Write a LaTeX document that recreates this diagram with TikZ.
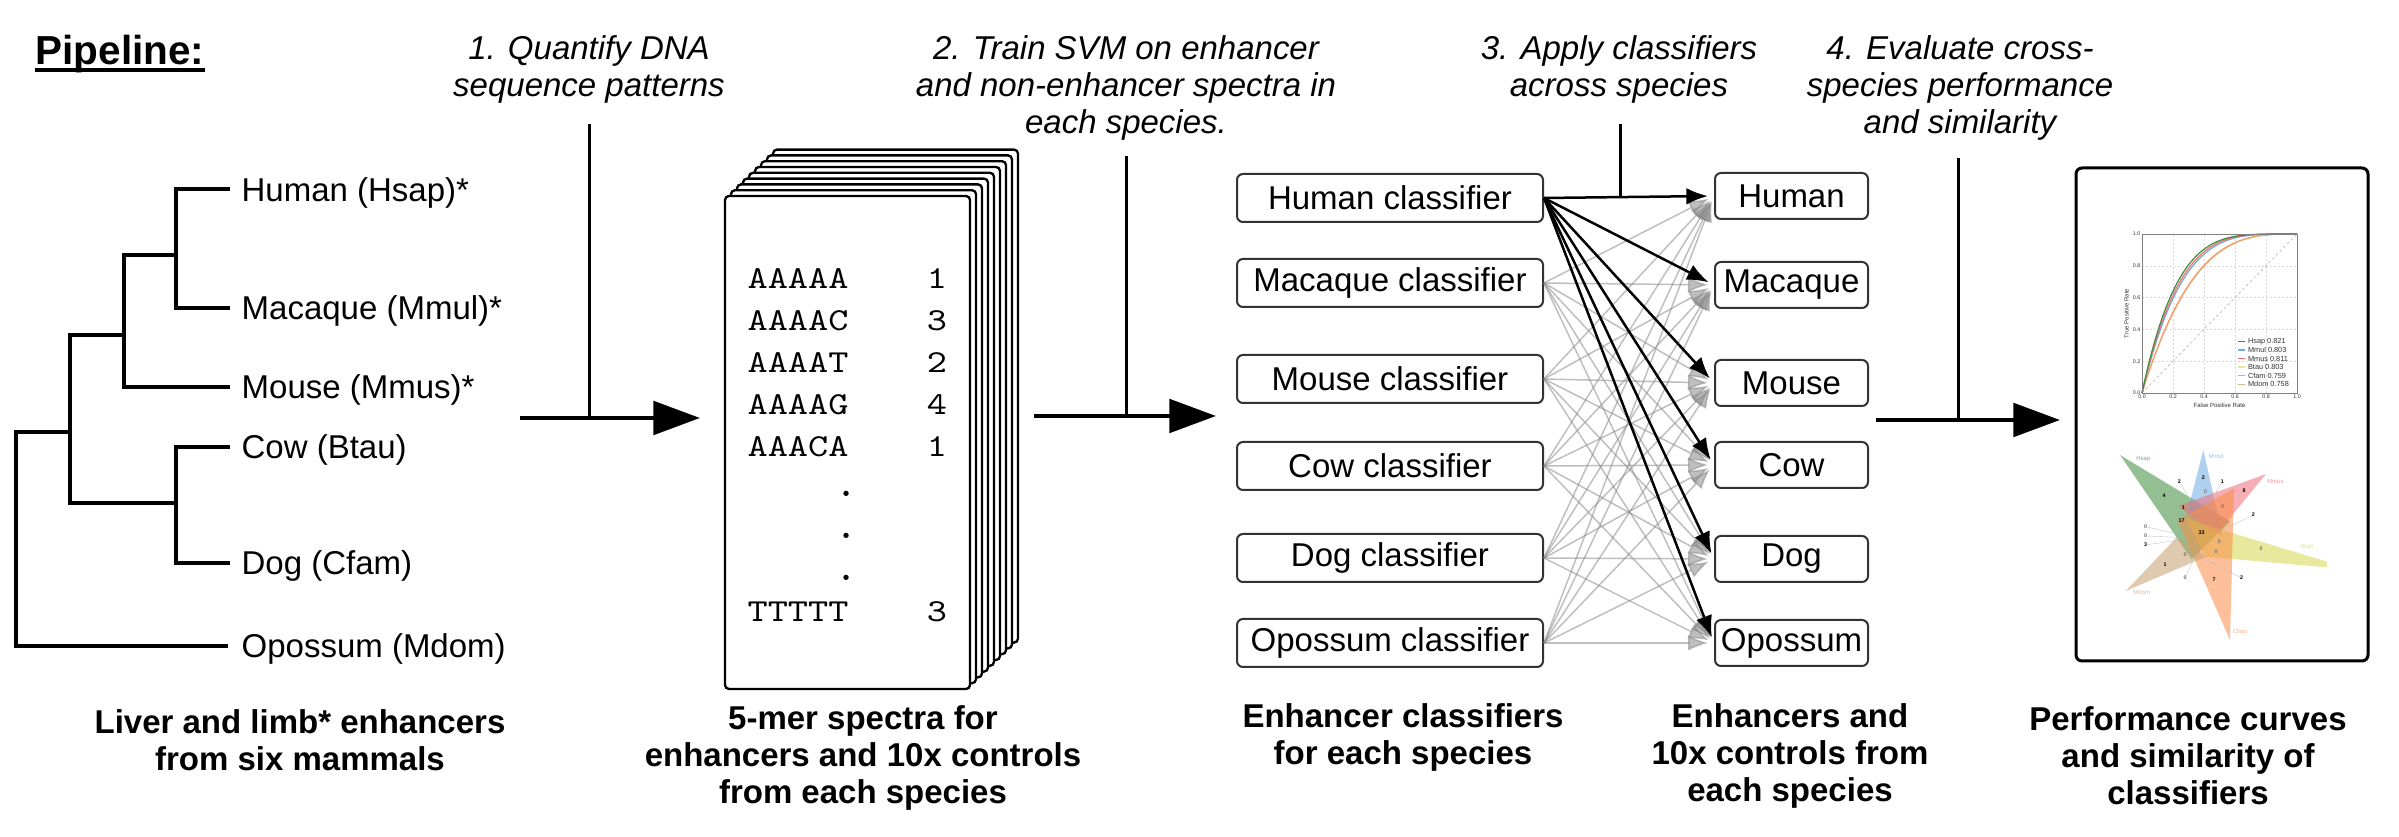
\documentclass[tikz,border=0pt]{standalone}
\usepackage{fontspec}
\setmainfont{Liberation Sans}
\usetikzlibrary{arrows.meta}

\definecolor{cHsap}{RGB}{60,140,60}
\definecolor{cMmul}{RGB}{110,170,225}
\definecolor{cMmus}{RGB}{240,110,120}
\definecolor{cBtau}{RGB}{215,215,80}
\definecolor{cCfam}{RGB}{250,140,70}
\definecolor{cMdom}{RGB}{200,160,110}

% k-mer table entries: typewriter, slightly widened
\newcommand{\kmertext}[1]{\scalebox{1.2}[1]{\ttfamily #1}}

\begin{document}
\begin{tikzpicture}[x=0.3pt,y=-0.3pt,
  tree/.style={line width=1.2pt},
  stepline/.style={line width=0.9pt},
  mainarrow/.style={line width=1.3pt,-{Triangle[length=14pt,width=10pt]}},
  steptext/.style={font=\fontsize{9.9}{11.1}\selectfont\itshape, align=center, inner sep=0},
  caption/.style={font=\fontsize{9.9}{11.1}\selectfont\bfseries, align=center, inner sep=0},
  leaf/.style={font=\fontsize{9.9}{11.1}\selectfont, anchor=base west, inner sep=0},
  page/.style={draw, fill=white, line width=0.7pt, rounded corners=1.2pt},
  mono/.style={font=\fontsize{9.6}{11}\selectfont, inner sep=0},
  clsbox/.style={draw=black!80, line width=0.6pt, rounded corners=1.8pt, minimum width=91.8pt,
    minimum height=14.4pt, inner sep=0, font=\fontsize{9.9}{11}\selectfont},
  tgtbox/.style={clsbox, minimum width=45.9pt, minimum height=13.8pt},
  weak/.style={draw=black!45, opacity=0.55, line width=0.45pt, shorten >=1.8pt, -{Latex[length=6pt,width=4.6pt]}},
  strong/.style={draw=black, line width=0.75pt, shorten >=1.8pt, -{Latex[length=6.5pt,width=5pt]}},
  tick/.style={font=\fontsize{1.6}{1.9}\selectfont, inner sep=0.3pt, text=black!80},
  axlabel/.style={font=\fontsize{1.8}{2.1}\selectfont, inner sep=0, text=black!80},
  legtext/.style={font=\fontsize{2.2}{2.6}\selectfont, inner sep=0, anchor=west, text=black!80},
  gridl/.style={draw=black!15, line width=0.12pt, dash pattern=on 0.6pt off 0.6pt},
  roc/.style={line width=0.35pt},
  tri/.style={fill opacity=0.55},
  vname/.style={font=\fontsize{1.8}{2.1}\selectfont, inner sep=0},
  vnum/.style={font=\fontsize{1.6}{1.9}\selectfont\bfseries, inner sep=0},
  vzero/.style={vnum, text=black!55},
  leader/.style={draw=black!25, line width=0.1pt},
]
\fill[white] (0,0) rectangle (2399,837);
\useasboundingbox (0,0) rectangle (2399,837);

% heading
\node[font=\fontsize{12.15}{13}\selectfont\bfseries, anchor=base west, inner sep=0] (title) at (35,65) {Pipeline:};
\draw[line width=1pt] ([yshift=-1.5pt]title.base west) -- ([yshift=-1.5pt]title.base east);

% species tree
\draw[tree] (230,189.5) -| (176,308) -- (230,308);
\draw[tree] (176,255) -| (124,387) -- (230,387);
\draw[tree] (124,335) -| (70,503) -- (176,503);
\draw[tree] (230,447) -| (176,563) -- (230,563);
\draw[tree] (70,432) -| (15.6,646) -- (228,646);

\node[leaf] (lHsap) at (241,201.5) {Human (Hsap)*};
\node[leaf] (lMmul) at (241,320) {Macaque (Mmul)*};
\node[leaf] (lMmus) at (241,399) {Mouse (Mmus)*};
\node[leaf] (lBtau) at (241,459) {Cow (Btau)};
\node[leaf] (lCfam) at (241,575) {Dog (Cfam)};
\node[leaf] (lMdom) at (241,658) {Opossum (Mdom)};

\node[caption] (cap1) at (300,740) {Liver and limb* enhancers\\from six mammals};

% step 1
\node[steptext] (s1) at (589,69.5) {1. Quantify DNA\\sequence patterns};
\coordinate (s1top) at (589,124);
\coordinate (s1join) at (589,418);
\coordinate (s1from) at (520,418);
\coordinate (s1to) at (700,418);
\draw[stepline] (s1top) -- (s1join);
\draw[mainarrow] (s1from) -- (s1to);

% stack of k-mer spectra
\foreach \i in {8,7,...,1}
  \draw[page] ({725+6*\i},{196-5.8*\i}) rectangle ({970+6*\i},{689-5.8*\i});
\draw[page] (725,196) rectangle (970,689);
\foreach \s/\n/\y [count=\k] in {AAAAA/1/279, AAAAC/3/321, AAAAT/2/363, AAAAG/4/405, AAACA/1/447, TTTTT/3/612} {
  \node[mono, anchor=west] (kmer\k) at (747,\y) {\kmertext{\s}};
  \node[mono] (cnt\k) at (937,\y) {\kmertext{\n}};
}
\foreach \y [count=\k] in {493,535,577}
  \node[font=\fontsize{14}{15}\selectfont\ttfamily, inner sep=0, anchor=base] (dot\k) at (847,{\y+4}) {.};

\node[caption] (cap2) at (863,758) {5-mer spectra for\\enhancers and 10x controls\\from each species};

% step 2
\node[steptext] (s2) at (1126,88) {2. Train SVM on enhancer\\and non-enhancer spectra in\\each species.};
\coordinate (s2top) at (1126,156);
\coordinate (s2join) at (1126,416);
\coordinate (s2from) at (1034,416);
\coordinate (s2to) at (1216,416);
\draw[stepline] (s2top) -- (s2join);
\draw[mainarrow] (s2from) -- (s2to);

% classifiers and target sets
\node[clsbox] (cH)  at (1390,198) {Human classifier};
\node[clsbox] (cMa) at (1390,283) {Macaque classifier};
\node[clsbox] (cMo) at (1390,379) {Mouse classifier};
\node[clsbox] (cCo) at (1390,466) {Cow classifier};
\node[clsbox] (cDo) at (1390,558) {Dog classifier};
\node[clsbox] (cOp) at (1390,643) {Opossum classifier};

\node[tgtbox] (tH)  at (1791.5,196) {Human};
\node[tgtbox] (tMa) at (1791.5,285) {Macaque};
\node[tgtbox] (tMo) at (1791.5,383) {Mouse};
\node[tgtbox] (tCo) at (1791.5,465) {Cow};
\node[tgtbox] (tDo) at (1791.5,559) {Dog};
\node[tgtbox] (tOp) at (1791.5,643) {Opossum};

\foreach \i in {Ma,Mo,Co,Do,Op}
  \foreach \j in {H,Ma,Mo,Co,Do,Op}
    \draw[weak] (c\i.east) -- (t\j.west);
\foreach \j in {H,Ma,Mo,Co,Do,Op}
  \draw[strong] (cH.east) -- (t\j.west);

% step 3
\node[steptext] (s3) at (1619,69.5) {3. Apply classifiers\\across species};
\coordinate (s3top) at (1620,124);
\coordinate (s3join) at (1620,197);
\draw[stepline] (s3top) -- (s3join);

\node[caption] (cap3) at (1403,737) {Enhancer classifiers\\for each species};
\node[caption] (cap4) at (1790,756) {Enhancers and\\10x controls from\\each species};

% step 4
\node[steptext] (s4) at (1960,88) {4. Evaluate cross-\\species performance\\and similarity};
\coordinate (s4top) at (1958,158);
\coordinate (s4join) at (1958,420);
\coordinate (s4from) at (1876,420);
\coordinate (s4to) at (2060,420);
\draw[stepline] (s4top) -- (s4join);
\draw[mainarrow] (s4from) -- (s4to);

% results panel
\draw[line width=0.9pt, rounded corners=1.8pt] (2076,168) rectangle (2368,661);

% ROC curves
\begin{scope}[shift={(2142,393)}, xscale=155, yscale=-159]
  \foreach \v in {0.2,0.4,0.6,0.8} {
    \draw[gridl] (\v,0) -- (\v,1);
    \draw[gridl] (0,\v) -- (1,\v);
  }
  \draw[black!35, line width=0.15pt, dash pattern=on 0.8pt off 0.8pt] (0,0) -- (1,1);
  \draw[roc, cMdom!80] plot[domain=0:0.99, samples=40, smooth] (\x,{1-(1-\x)^3.13}) -- (1,1);
  \draw[roc, cCfam!85] plot[domain=0:0.99, samples=40, smooth] (\x,{1-(1-\x)^3.18}) -- (1,1);
  \draw[roc, cBtau!60] plot[domain=0:0.99, samples=40, smooth] (\x,{1-(1-\x)^4.08}) -- (1,1);
  \draw[roc, cMmul] plot[domain=0:0.99, samples=40, smooth] (\x,{1-(1-\x)^4.04}) -- (1,1);
  \draw[roc, cMmus] plot[domain=0:0.99, samples=40, smooth] (\x,{1-(1-\x)^4.29}) -- (1,1);
  \draw[roc, cHsap] plot[domain=0:0.99, samples=40, smooth] (\x,{1-(1-\x)^4.59}) -- (1,1);
  \draw[black!50, line width=0.25pt] (0,0) rectangle (1,1);
  \foreach \v [count=\k] in {0.0,0.2,0.4,0.6,0.8,1.0} {
    \node[tick, anchor=north] (xt\k) at (\k*0.2-0.2,0) {\v};
    \node[tick, anchor=east] (yt\k) at (0,\k*0.2-0.2) {\v};
  }
  \node[axlabel] (xlab) at (0.5,-0.075) {False Positive Rate};
  \node[axlabel, rotate=90] (ylab) at (-0.1,0.5) {True Positive Rate};
  \foreach \c/\t [count=\k] in {cHsap/Hsap 0.821, cMmul/Mmul 0.803, cMmus/Mmus 0.811,
                                cBtau!60/Btau 0.803, cCfam!85/Cfam 0.759, cMdom!80/Mdom 0.758} {
    \draw[\c, line width=0.4pt] (0.62,{0.323-0.0535*(\k-1)}) -- (0.665,{0.323-0.0535*(\k-1)});
    \node[legtext] (leg\k) at (0.68,{0.323-0.0535*(\k-1)}) {\t};
  }
\end{scope}

% six-set overlap diagram
\begin{scope}[shift={(2090,420)}, scale=1/3]
  \fill[tri, cHsap] (90,105) -- (420,305) -- (305,418) -- cycle;
  \fill[tri, cMmul] (340,90) -- (290,285) -- (398,350) -- cycle;
  \fill[tri, cMmus] (528,162) -- (265,258) -- (378,345) -- cycle;
  \fill[tri, cBtau] (290,298) -- (711,425) -- (711,442) -- (345,410) -- cycle;
  \fill[tri, cCfam] (420,660) -- (262,300) -- (432,205) -- cycle;
  \fill[tri, cMdom] (107,513) -- (262,350) -- (348,410) -- cycle;

  \draw[leader] (268,185) -- (300,238);
  \draw[leader] (397,185) -- (365,238);
  \draw[leader] (490,285) -- (398,330);
  \draw[leader] (167,320) -- (262,342);
  \draw[leader] (167,348) -- (262,352);
  \draw[leader] (167,375) -- (268,360);
  \draw[leader] (285,474) -- (310,420);
  \draw[leader] (455,474) -- (345,418);

  \node[vname, text=cHsap!70] (nHsap) at (160,117) {Hsap};
  \node[vname, text=cMmul!70] (nMmul) at (378,108) {Mmul};
  \node[vname, text=cMmus!70] (nMmus) at (556,185) {Mmus};
  \node[vname, text=cBtau!70] (nBtau) at (652,380) {Btau};
  \node[vname, text=cCfam!70] (nCfam) at (450,635) {Cfam};
  \node[vname, text=cMdom!70] (nMdom) at (155,518) {Mdom};

  \foreach \n/\px/\py [count=\k] in {2/268/185, 2/340/172, 1/397/185, 4/222/228, 8/462/212,
      1/280/263, 2/490/285, 17/275/302, 33/335/338, 3/167/375, 1/225/435, 7/372/478, 2/455/474}
    \node[vnum] (vn\k) at (\px,\py) {\n};
  \foreach \px/\py [count=\k] in {347/215, 398/260, 167/320, 167/348, 388/366, 513/387,
      378/395, 285/405, 285/474}
    \node[vzero] (vz\k) at (\px,\py) {0};
\end{scope}

\node[caption] (cap5) at (2188,756) {Performance curves\\and similarity of\\classifiers};
\end{tikzpicture}
\end{document}
